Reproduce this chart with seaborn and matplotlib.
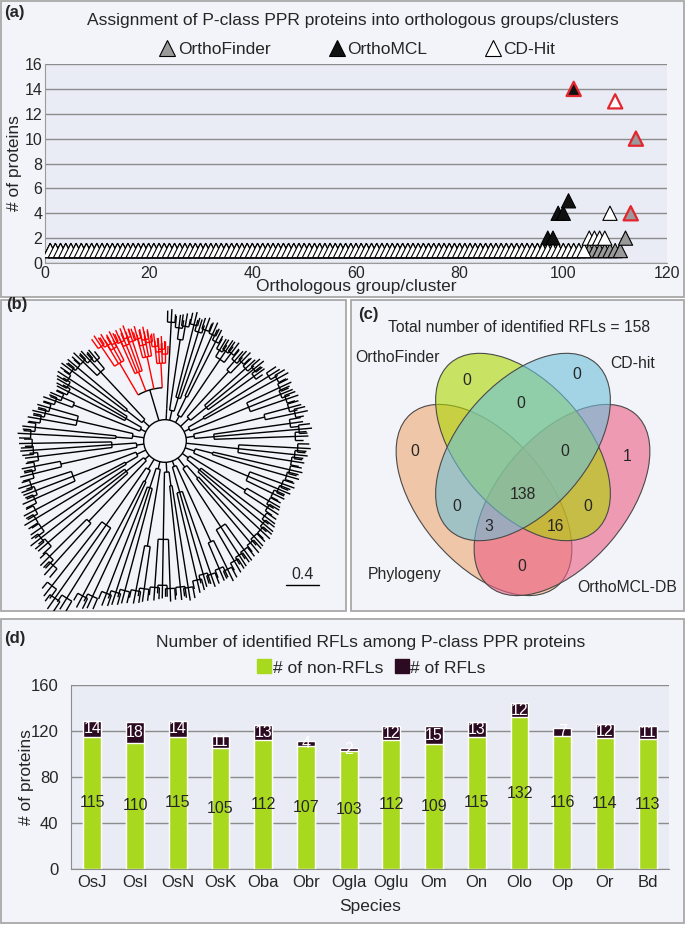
import numpy as np
import pandas as pd
import matplotlib
matplotlib.use("Agg")
import matplotlib.pyplot as plt
from matplotlib.patches import Rectangle, Ellipse, Circle, Arc
from matplotlib.lines import Line2D
import seaborn as sns

sns.set_style("white")
plt.rcParams['font.family'] = ['Liberation Sans Narrow', 'Liberation Sans', 'DejaVu Sans']

# ---------------- data: (a) cluster sizes, sorted by size ----------------
finder_sizes = [1] * 111 + [2, 4, 10]
mcl_sizes = [1] * 96 + [2, 2, 4, 4, 5, 14]
cdhit_sizes = [1] * 104 + [2, 2, 2, 2, 4, 13]
finder_red = [113, 114]      # groups outlined in red
mcl_red = [102]
cdhit_red = [110]
methods = ["OrthoFinder", "OrthoMCL", "CD-Hit"]

# ---------------- data: (b) tree (angles in degrees, radii in substitutions) ----------------
tree_root_r = 0.26
tree_scale = 0.4
# each clade: (clade split radius, stem colour, clade colour, [(leaf angles, tip radii, sub split radius), ...])
tree_clades = [
    (0.36, 'k', 'k', [([2, 5, 8], [1.75, 1.80, 1.70], 0.60), ([12, 15], [1.78, 1.72], 1.25)]),
    (0.33, 'k', 'k', [([19, 22, 25], [1.72, 1.68, 1.70], 1.10), ([29, 32], [1.72, 1.65], 0.55)]),
    (0.40, 'k', 'k', [([36, 39, 42], [1.50, 1.55, 1.48], 0.65), ([46, 49], [1.50, 1.45], 1.15)]),
    (0.35, 'k', 'k', [([53, 56, 59], [1.50, 1.48, 1.45], 1.20), ([63, 66], [1.52, 1.58], 0.60)]),
    (0.38, 'k', 'k', [([70, 73, 76], [1.60, 1.55, 1.62], 0.55), ([80, 83], [1.58, 1.55], 1.25)]),
    (0.32, 'k', 'k', [([87], [1.61], 0.40)]),
    (0.65, 'k', 'red', [([90, 92, 94, 96], [1.22, 1.28, 1.25, 1.32], 0.95),
                         ([99, 101, 103, 105], [1.38, 1.42, 1.36, 1.45], 1.05),
                         ([108, 110, 112, 114], [1.44, 1.50, 1.42, 1.48], 0.90),
                         ([117, 119, 121, 124], [1.50, 1.45, 1.52, 1.55], 1.10)]),
    (0.36, 'k', 'k', [([130, 133, 136], [1.45, 1.50, 1.55], 1.15), ([140, 143], [1.55, 1.58], 0.60)]),
    (0.33, 'k', 'k', [([147, 150, 153], [1.56, 1.52, 1.48], 0.55), ([157, 160], [1.52, 1.58], 1.20)]),
    (0.40, 'k', 'k', [([164, 167, 170], [1.62, 1.66, 1.70], 1.10), ([174, 177], [1.75, 1.80], 0.60)]),
    (0.35, 'k', 'k', [([181, 184, 187], [1.78, 1.77, 1.72], 0.65), ([191, 194], [1.78, 1.82], 1.30)]),
    (0.38, 'k', 'k', [([198, 201, 204], [1.88, 1.85, 1.90], 1.20), ([208, 211], [1.95, 2.00], 0.55)]),
    (0.33, 'k', 'k', [([215, 218, 221], [2.00, 2.08, 2.05], 0.60), ([225, 228], [2.15, 2.20], 1.35)]),
    (0.40, 'k', 'k', [([232, 235, 238], [2.40, 2.50, 2.42], 1.25), ([242, 245], [2.30, 2.25], 0.55)]),
    (0.35, 'k', 'k', [([249, 252, 255], [2.15, 2.10, 2.05], 0.60), ([259, 262], [2.02, 1.98], 1.30)]),
    (0.38, 'k', 'k', [([266, 269, 272], [1.95, 1.92, 1.96], 1.20), ([276, 279], [1.95, 1.97], 0.55)]),
    (0.33, 'k', 'k', [([283, 286, 289], [1.90, 1.85, 1.88], 0.65), ([293, 296], [1.85, 1.90], 1.35)]),
    (0.40, 'k', 'k', [([300, 303, 306], [1.85, 1.82, 1.80], 1.25), ([310, 313], [1.78, 1.75], 0.60)]),
    (0.35, 'k', 'k', [([317, 320, 323], [1.75, 1.72, 1.68], 0.55), ([327, 330], [1.65, 1.62], 1.15)]),
    (0.38, 'k', 'k', [([334, 337, 340], [1.62, 1.66, 1.68], 1.10), ([344, 347], [1.70, 1.72], 0.60)]),
    (0.33, 'k', 'k', [([351, 354, 357], [1.72, 1.75, 1.78], 0.90)]),
]

# ---------------- data: (c) Venn ----------------
venn_total = 158
venn_sets = ["OrthoFinder", "CD-hit", "Phylogeny", "OrthoMCL-DB"]
venn_counts = [0, 0, 0, 0, 0, 1, 138, 0, 0, 3, 16, 0]

# ---------------- data: (d) ----------------
species = ["OsJ", "OsI", "OsN", "OsK", "Oba", "Obr", "Ogla", "Oglu", "Om", "On", "Olo", "Op", "Or", "Bd"]
non_rfl = [115, 110, 115, 105, 112, 107, 103, 112, 109, 115, 132, 116, 114, 113]
rfl = [14, 18, 14, 11, 13, 4, 2, 12, 15, 13, 12, 7, 12, 11]

# ---------------- layout ----------------
W, H = 685, 925
fig = plt.figure(figsize=(W / 100, H / 100), dpi=100, facecolor='white')


def px_axes(x0, y0, x1, y1):
    return fig.add_axes([x0 / W, 1 - y1 / H, (x1 - x0) / W, (y1 - y0) / H])


PANEL_BG = '#f3f4f9'
PLOT_BG = '#e9ebf5'
GRID = '#8c8c8c'
BORDER = '#a8a8a8'

bg = px_axes(0, 0, W, H)
bg.set_xlim(0, W)
bg.set_ylim(H, 0)
bg.axis('off')
bg.set_zorder(-10)
for (x0, y0, x1, y1) in [(1, 1, 684, 297), (1, 300, 346, 611), (351, 300, 684, 611), (1, 619, 684, 923)]:
    bg.add_patch(Rectangle((x0, y0), x1 - x0, y1 - y0, facecolor=PANEL_BG, edgecolor=BORDER, lw=1.3))

FS = 12.5
FSC = 11.3
bg.text(4, 13, '(a)', fontsize=12, fontweight='bold', va='center', ha='left')
bg.text(353, 21, 'Assignment of P-class PPR proteins into orthologous groups/clusters', fontsize=FS,
        ha='center', va='center')
bg.text(6, 305, '(b)', fontsize=12, fontweight='bold', va='center', ha='left')
bg.text(358, 315, '(c)', fontsize=12, fontweight='bold', va='center', ha='left')
bg.text(4, 638, '(d)', fontsize=12, fontweight='bold', va='center', ha='left')
bg.text(371, 642, 'Number of identified RFLs among P-class PPR proteins', fontsize=FS, ha='center', va='center')

# ---------------- (a) ----------------
axA = px_axes(45, 64, 667, 263)
axA.set_facecolor(PLOT_BG)
face = {"OrthoFinder": '#9a9a9a', "OrthoMCL": '#111111', "CD-Hit": 'white'}
rows = []
for name, sizes, red in zip(methods, [finder_sizes, mcl_sizes, cdhit_sizes], [finder_red, mcl_red, cdhit_red]):
    for i, v in enumerate(sizes, start=1):
        rows.append((name, i, v, i in red))
dfA = pd.DataFrame(rows, columns=["method", "group", "proteins", "red"])
for z, name in enumerate(methods):
    d = dfA[dfA.method == name]
    ec = ['#e3262e' if r else 'black' for r in d.red]
    lw = [1.6 if r else 0.8 for r in d.red]
    sns.scatterplot(data=d, x="group", y="proteins", marker='^', s=105, color=face[name],
                    edgecolor=ec, linewidth=lw, ax=axA, legend=False, zorder=3 + z)
axA.set_xlim(0, 120)
axA.set_ylim(0, 16)
axA.set_yticks(range(0, 17, 2))
axA.set_xticks(range(0, 121, 20))
axA.yaxis.grid(True, color=GRID, lw=1.0)
axA.set_axisbelow(True)
for s in ['top', 'right']:
    axA.spines[s].set_visible(False)
axA.spines['left'].set_color('#9a9a9a')
axA.spines['bottom'].set_color('#9a9a9a')
axA.tick_params(axis='both', length=0, labelsize=11.5, pad=2)
axA.set_xlabel('Orthologous group/cluster', fontsize=FS, labelpad=-1)
axA.set_ylabel('# of proteins', fontsize=FS)
axA.yaxis.set_label_coords((22 - 45) / 622, 0.5)

handlesA = [Line2D([], [], marker='^', ls='', markerfacecolor=face[m], markeredgecolor='k',
                   markersize=11, mew=0.8) for m in methods]
fig.legend(handlesA, methods, loc='center', bbox_to_anchor=(357 / W, 1 - 49 / H), ncol=3, frameon=False,
           fontsize=FS, handletextpad=0.1, columnspacing=3.3, handlelength=1.0)

# ---------------- (b) tree ----------------
SCALE = 82.0
cx, cy = 165, 441
axB = px_axes(2, 300, 345, 611)
axB.set_xlim((2 - cx) / SCALE, (345 - cx) / SCALE)
axB.set_ylim((cy - 611) / SCALE, (cy - 300) / SCALE)
axB.axis('off')
LW = 1.0


def radial(ang, r0, r1, col):
    a = np.radians(ang)
    axB.plot([r0 * np.cos(a), r1 * np.cos(a)], [r0 * np.sin(a), r1 * np.sin(a)], color=col, lw=LW,
             solid_capstyle='butt')


def arc(r, a0, a1, col):
    if a1 - a0 > 0.01:
        axB.add_patch(Arc((0, 0), 2 * r, 2 * r, theta1=a0, theta2=a1, color=col, lw=LW))


axB.add_patch(Circle((0, 0), tree_root_r, fill=False, color='k', lw=LW))
for rc, stem_col, col, subs in tree_clades:
    means = [float(np.mean(s[0])) for s in subs]
    stem = float(np.mean(means))
    radial(stem, tree_root_r, rc, stem_col)
    arc(rc, min(means), max(means), stem_col)
    for (angs, tips, rs), m in zip(subs, means):
        radial(m, rc, rs, col)
        arc(rs, min(angs), max(angs), col)
        for a, t in zip(angs, tips):
            radial(a, rs, t, col)
            tr = t - 0.16
            arc(tr, a - 1.8, a + 1.8, col)
            radial(a - 1.8, tr, t - 0.06, col)
            radial(a + 1.8, tr, t - 0.02, col)

sb_x0, sb_y = (286 - cx) / SCALE, (cy - 585) / SCALE
axB.plot([sb_x0, sb_x0 + tree_scale], [sb_y, sb_y], color='k', lw=1.0)
axB.text(sb_x0 + tree_scale / 2, sb_y + 0.04, f'{tree_scale}', ha='center', va='bottom', fontsize=11.5)

# ---------------- (c) Venn ----------------
axC = px_axes(352, 300, 683, 611)
axC.set_xlim(352, 683)
axC.set_ylim(611, 300)
axC.axis('off')
venn_shapes = {  # centre, semi-axes, angle (pixel space, y down)
    "Phylogeny": ((484, 500), 113, 64, 49.7, '#efa872'),
    "OrthoMCL-DB": ((562, 500), 113, 64, 130.3, '#ec5f85'),
    "OrthoFinder": ((523, 447), 111, 64, 49.0, '#acd600'),
    "CD-hit": ((523, 447), 111, 64, 131.0, '#6cc0d8'),
}
for name in ["Phylogeny", "OrthoMCL-DB", "OrthoFinder", "CD-hit"]:
    (ex, ey), a, b, ang, colr = venn_shapes[name]
    axC.add_patch(Ellipse((ex, ey), 2 * a, 2 * b, angle=ang, facecolor=colr, alpha=0.6, edgecolor='none'))
    axC.add_patch(Ellipse((ex, ey), 2 * a, 2 * b, angle=ang, facecolor='none', edgecolor='#4a4a4a', lw=0.8))
venn_label_xy = [(466.7, 380.3), (576.7, 374.7), (520.7, 403), (415, 451.3), (565, 451.3), (626.7, 456.3),
                 (523.3, 494.7), (456.7, 506.3), (588.3, 506.3), (488.3, 526.3), (555.7, 526.3), (521.7, 566.3)]
for (x, y), v in zip(venn_label_xy, venn_counts):
    axC.text(x, y, str(v), ha='center', va='center', fontsize=FSC)
venn_name_xy = {"OrthoFinder": (398, 358), "CD-hit": (633, 364), "Phylogeny": (405, 575), "OrthoMCL-DB": (627, 588)}
for n in venn_sets:
    axC.text(*venn_name_xy[n], n, ha='center', va='center', fontsize=FSC)
axC.text(519, 327, f'Total number of identified RFLs = {venn_total}', ha='center', va='center', fontsize=FSC)

# ---------------- (d) ----------------
axD = px_axes(71, 685, 669, 869)
axD.set_facecolor(PLOT_BG)
dfD = pd.DataFrame({"species": species, "non": non_rfl, "rfl": rfl})
dfD["total"] = dfD["non"] + dfD["rfl"]
GREEN = '#a9d91f'
DARK = '#2c0a21'
sns.barplot(data=dfD, x="species", y="total", color=DARK, width=0.42, saturation=1, ax=axD, zorder=2)
sns.barplot(data=dfD, x="species", y="non", color=GREEN, width=0.42, saturation=1, ax=axD, zorder=3)
for i, (n, r) in enumerate(zip(non_rfl, rfl)):
    axD.text(i, n / 2, str(n), ha='center', va='center', fontsize=11.5, zorder=5)
    axD.text(i, n + r / 2, str(r), ha='center', va='center', fontsize=11.5, color='white', zorder=5)
axD.set_xlim(-0.5, 13.5)
axD.set_ylim(0, 160)
axD.set_yticks(range(0, 161, 40))
axD.yaxis.grid(True, color=GRID, lw=1.0)
axD.set_axisbelow(True)
for s in ['top', 'right']:
    axD.spines[s].set_visible(False)
axD.spines['left'].set_color('#8c8c8c')
axD.spines['bottom'].set_color('#8c8c8c')
axD.set_xticks(np.arange(-0.5, 14, 1.0), minor=True)
axD.tick_params(axis='x', which='minor', length=5, color='#8c8c8c')
axD.tick_params(axis='both', which='major', length=0, labelsize=12, pad=4)
axD.tick_params(axis='y', which='major', length=5, color='#8c8c8c', direction='out')
axD.set_xlabel('Species', fontsize=FS, labelpad=7)
axD.set_ylabel('# of proteins', fontsize=FS)
axD.yaxis.set_label_coords((34 - 71) / 598, 0.5)

handlesD = [Line2D([], [], marker='s', ls='', markerfacecolor=c, markeredgecolor=c, markersize=10)
            for c in [GREEN, DARK]]
fig.legend(handlesD, ['# of non-RFLs', '# of RFLs'], loc='center', bbox_to_anchor=(371 / W, 1 - 668 / H), ncol=2,
           frameon=False, fontsize=FS, handletextpad=0.05, columnspacing=0.6, handlelength=0.9)

fig.savefig('out.png', dpi=100, facecolor='white')
